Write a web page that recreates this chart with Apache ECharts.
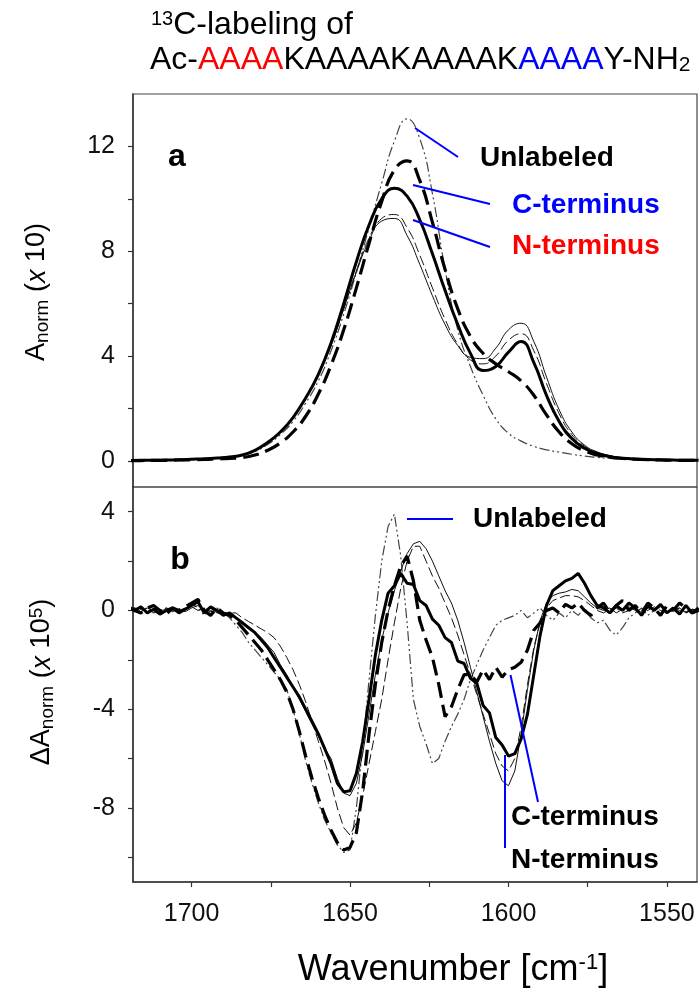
<!DOCTYPE html>
<html>
<head>
<meta charset="utf-8">
<script src="https://cdn.jsdelivr.net/npm/echarts@6/dist/echarts.min.js"></script>
<style>
html,body{margin:0;padding:0;background:#fff;}
#chart{width:699px;height:990px;}
</style>
</head>
<body>
<div id="chart"></div>
<script>
// ---------- DATA ----------
// Panel a: wavenumber grid (cm-1), step 4
const wnTop = [1720,1716,1712,1708,1704,1700,1696,1692,1688,1684,1680,1676,1672,1668,1664,1660,1656,1652,1648,1644,1640,1636,1632,1628,1624,1620,1616,1612,1608,1604,1600,1596,1592,1588,1584,1580,1576,1572,1568,1564,1560,1556,1552,1548,1544,1540];
const topUnlabeled = [0.01,0.02,0.02,0.03,0.04,0.05,0.07,0.1,0.14,0.2,0.36,0.62,1.0,1.5,2.2,3.05,4.2,5.6,7.2,8.9,10.6,12.2,13.05,12.3,10.2,7.3,5.0,3.6,2.5,1.6,1.05,0.75,0.55,0.42,0.33,0.25,0.18,0.13,0.09,0.06,0.04,0.03,0.02,0.02,0.01,0.01];
const topCterm = [0.01,0.01,0.02,0.02,0.03,0.04,0.05,0.07,0.09,0.12,0.22,0.4,0.68,1.1,1.7,2.55,3.65,5.0,6.6,8.3,9.9,11.1,11.45,10.7,9.1,7.3,5.8,4.75,4.1,3.7,3.4,3.05,2.5,1.75,1.1,0.65,0.38,0.22,0.14,0.09,0.06,0.04,0.03,0.02,0.02,0.01];
const topNterm = [0.01,0.02,0.02,0.03,0.04,0.06,0.08,0.11,0.15,0.22,0.4,0.7,1.1,1.65,2.4,3.3,4.5,6.0,7.6,9.0,10.0,10.4,10.1,9.2,7.9,6.5,5.2,4.1,3.45,3.6,4.15,4.55,3.75,2.5,1.5,0.85,0.48,0.28,0.16,0.1,0.07,0.05,0.04,0.03,0.02,0.02];
const topThinSolid = [0.01,0.02,0.02,0.03,0.04,0.06,0.08,0.11,0.15,0.22,0.4,0.7,1.1,1.65,2.4,3.3,4.4,5.8,7.2,8.4,9.15,9.25,8.6,7.5,6.3,5.2,4.4,3.95,3.9,4.3,5.0,5.25,4.55,3.2,1.95,1.1,0.6,0.34,0.2,0.12,0.08,0.06,0.04,0.03,0.03,0.02];
const topThinDashed = [0.01,0.02,0.02,0.03,0.04,0.06,0.08,0.11,0.15,0.22,0.4,0.7,1.1,1.65,2.4,3.3,4.4,5.8,7.25,8.5,9.25,9.4,8.9,7.85,6.6,5.4,4.45,3.85,3.7,4.0,4.6,4.85,4.2,2.95,1.8,1.0,0.56,0.32,0.18,0.11,0.07,0.05,0.04,0.03,0.03,0.02];

// Panel b: wavenumber grid (cm-1), step 2
const wnBot = [1720,1718,1716,1714,1712,1710,1708,1706,1704,1702,
  1700,1698,1696,1694,1692,1690,1688,1686,1684,1682,
  1680,1678,1676,1674,1672,1670,1668,1666,1664,1662,
  1660,1658,1656,1654,1652,1650,1648,1646,1644,1642,
  1640,1638,1636,1634,1632,1630,1628,1626,1624,1622,
  1620,1618,1616,1614,1612,1610,1608,1606,1604,1602,
  1600,1598,1596,1594,1592,1590,1588,1586,1584,1582,
  1580,1578,1576,1574,1572,1570,1568,1566,1564,1562,
  1560,1558,1556,1554,1552,1550,1548,1546,1544,1542,
  1540];
const botUnlabeled = [0.1,-0.05,0.05,0.1,-0.1,0.0,0.1,-0.05,0.05,0.0,
  0.3,0.1,-0.2,0.0,0.1,-0.1,-0.3,-0.6,-0.9,-1.3,
  -1.6,-1.9,-2.2,-2.5,-2.8,-3.2,-4.0,-5.0,-6.1,-7.0,
  -7.8,-8.5,-9.0,-9.5,-9.8,-9.7,-8.0,-5.5,-2.8,-0.2,
  2.0,3.4,3.9,2.2,-0.5,-3.6,-4.7,-5.4,-6.2,-6.0,
  -5.3,-4.7,-4.2,-3.6,-2.8,-2.2,-1.6,-1.1,-0.6,-0.4,
  -0.3,-0.2,0.0,-0.3,-0.1,0.1,-0.2,-0.4,-0.1,-0.3,
  0.0,-0.2,0.1,-0.3,-0.5,-0.4,-0.8,-1.0,-0.7,-0.3,
  -0.1,0.1,-0.2,0.0,0.15,-0.1,0.0,0.1,-0.1,0.0,
  0.0];
const botCterm = [0.15,0.0,-0.1,0.1,0.2,0.0,-0.15,0.1,0.0,0.15,
  0.3,0.45,0.0,-0.2,0.1,-0.1,-0.2,-0.4,-0.7,-1.0,
  -1.3,-1.6,-2.0,-2.4,-2.8,-3.3,-4.0,-4.9,-5.9,-6.8,
  -7.6,-8.3,-8.9,-9.4,-9.7,-9.6,-9.0,-7.3,-5.0,-3.0,
  -1.3,0.0,1.0,1.8,2.2,1.2,-0.4,-1.2,-1.9,-3.0,
  -4.3,-3.9,-3.2,-2.6,-2.6,-2.9,-2.4,-2.8,-2.3,-2.7,
  -2.4,-2.3,-2.1,-1.6,-0.8,-0.5,0.0,0.1,-0.1,0.25,
  0.1,0.3,0.0,-0.2,0.1,0.3,-0.1,0.2,0.4,0.0,
  0.2,-0.1,0.3,0.1,-0.2,0.2,0.0,0.3,0.1,-0.1,
  0.1];
const botNterm = [0.1,0.0,0.15,-0.1,0.05,-0.15,0.0,0.1,-0.1,0.05,
  0.2,0.35,-0.1,0.15,0.0,-0.2,-0.1,-0.3,-0.5,-0.7,
  -0.9,-1.2,-1.5,-1.9,-2.3,-2.7,-3.1,-3.5,-4.0,-4.5,
  -5.0,-5.6,-6.2,-7.0,-7.35,-7.3,-6.6,-5.3,-3.6,-1.8,
  -0.4,0.7,1.0,1.5,1.1,1.05,0.4,0.2,-0.35,-0.6,
  -1.1,-1.3,-2.05,-2.15,-2.75,-2.95,-3.85,-4.15,-5.15,-5.45,
  -5.9,-5.8,-5.2,-4.2,-2.6,-1.0,0.2,0.8,1.0,1.2,
  1.3,1.5,1.1,0.6,0.2,0.1,-0.1,0.2,0.0,0.3,
  0.1,-0.2,0.2,0.0,0.25,-0.1,0.1,-0.15,0.2,-0.1,
  0.0];
const botThinSolid = [0.05,0.1,-0.05,0.1,0.0,-0.1,0.1,0.0,0.05,-0.05,
  0.1,0.2,0.0,0.1,-0.1,-0.15,-0.2,-0.3,-0.5,-0.7,
  -0.9,-1.1,-1.4,-1.7,-2.2,-2.6,-3.1,-3.6,-4.1,-4.6,
  -5.1,-5.6,-6.0,-6.8,-7.4,-7.5,-7.0,-5.8,-4.2,-2.6,
  -1.2,-0.1,0.8,1.6,2.3,2.7,2.8,2.5,2.0,1.4,
  0.8,0.3,-0.4,-1.3,-2.3,-3.3,-4.3,-5.3,-6.2,-6.9,
  -7.1,-6.5,-5.0,-3.2,-1.6,-0.4,0.3,0.6,0.7,0.75,
  0.85,0.8,0.55,0.3,0.1,0.0,0.1,-0.1,0.05,0.15,
  0.0,-0.15,0.1,0.05,0.2,-0.05,0.0,0.1,-0.1,0.05,
  0.0];
const botThinDashed = [0.0,0.1,0.05,-0.05,0.1,0.0,-0.1,0.05,0.0,0.1,
  0.15,0.0,0.1,-0.05,0.0,-0.1,-0.1,-0.1,-0.3,-0.45,
  -0.6,-0.75,-0.9,-1.1,-1.45,-1.9,-2.4,-3.0,-3.7,-4.5,
  -5.3,-6.1,-7.0,-8.0,-8.8,-9.1,-8.6,-7.5,-6.2,-4.9,
  -3.6,-2.0,-0.5,0.9,2.0,2.6,2.6,2.0,1.4,0.9,
  0.3,-0.3,-1.0,-1.8,-2.6,-3.4,-4.2,-5.0,-5.8,-6.3,
  -6.5,-6.0,-4.7,-3.0,-1.5,-0.5,0.1,0.4,0.5,0.6,
  0.6,0.55,0.4,0.2,0.0,-0.1,0.05,0.1,-0.1,0.0,
  0.1,-0.1,0.0,0.15,0.0,-0.1,0.1,0.0,-0.05,0.05,
  0.0];

// Tick values
const xTickLabels = [1700,1650,1600,1550];
const xTicks = [1700,1675,1650,1625,1600,1575,1550];
const yTopLabels = [0,4,8,12];
const yTopTicks = [0,2,4,6,8,10,12];
const yBotLabels = [-8,-4,0,4];
const yBotTicks = [-10,-8,-6,-4,-2,0,2,4];

// ---------- CHART ----------
const F = '"Liberation Sans", Arial, Helvetica, sans-serif';
const chart = echarts.init(document.getElementById('chart'), null, {renderer:'canvas'});
function pairs(xs, ys){ return xs.map((x,i)=>[x, ys[i]]); }

const styles = {
  U: {color:'#444', width:1.2, type:[10,3,2,3,2,3]},
  T2:{color:'#111', width:1, type:[10,4]},
  T1:{color:'#111', width:1, type:'solid'},
  C: {color:'#000', width:3.2, type:[16,7]},
  N: {color:'#000', width:3, type:'solid'}
};
function ser(name, xs, ys, st, idx, smooth){
  return {name, type:'line', xAxisIndex:idx, yAxisIndex:idx, data:pairs(xs,ys),
    showSymbol:false, symbol:'none', smooth:smooth, lineStyle:st, silent:true, animation:false};
}
const axisCol = '#333';
function xAx(idx, show){
  return {gridIndex:idx, type:'value', min:1540.5, max:1718.5, inverse:true,
    axisLine:{show:show, onZero:false, lineStyle:{color:axisCol, width:1.5}},
    axisTick:{show:show, inside:false, length:5, customValues:xTicks, lineStyle:{color:axisCol, width:1.2}},
    axisLabel:{show:show, customValues:xTickLabels, formatter:(v)=>String(v), fontSize:25, color:'#111', fontFamily:F, margin:20},
    splitLine:{show:false}};
}
function yAx(idx, min, max, labels, ticks){
  return {gridIndex:idx, type:'value', min:min, max:max,
    axisLine:{show:true, onZero:false, lineStyle:{color:axisCol, width:1.5}},
    axisTick:{show:true, inside:false, length:5, customValues:ticks, lineStyle:{color:axisCol, width:1.2}},
    axisLabel:{customValues:labels, formatter:(v)=>String(v), fontSize:25, color:'#111', fontFamily:F, margin:18},
    splitLine:{show:false}};
}

const bold28 = {fontSize:28, fontWeight:'bold', fontFamily:F};
function txt(x, y, text, fill){
  return {type:'text', x:x, y:y, z:100,
    style:Object.assign({text:text, fill:fill, align:'left', verticalAlign:'middle',
      textAlign:'left', textVerticalAlign:'middle'}, bold28)};
}
function seg(x1,y1,x2,y2){
  return {type:'line', z:100, shape:{x1,y1,x2,y2}, style:{stroke:'#0000ff', lineWidth:2}};
}

const option = {
  backgroundColor:'#fff',
  animation:false,
  grid:[
    {left:133, top:94, width:564, height:393, show:true, borderColor:'#444', borderWidth:1.2, backgroundColor:'transparent', containLabel:false, outerBoundsMode:'none'},
    {left:133, top:487, width:564, height:395, show:true, borderColor:'#444', borderWidth:1.2, backgroundColor:'transparent', containLabel:false, outerBoundsMode:'none'}
  ],
  xAxis:[xAx(0,false), xAx(1,true)],
  yAxis:[yAx(0,-1,14,yTopLabels,yTopTicks), yAx(1,-11,5,yBotLabels,yBotTicks)],
  series:[
    ser('Unlabeled', wnTop, topUnlabeled, styles.U, 0, true),
    ser('thin dashed', wnTop, topThinDashed, styles.T2, 0, true),
    ser('thin solid', wnTop, topThinSolid, styles.T1, 0, true),
    ser('C-terminus', wnTop, topCterm, styles.C, 0, true),
    ser('N-terminus', wnTop, topNterm, styles.N, 0, true),
    ser('Unlabeled b', wnBot, botUnlabeled, styles.U, 1, false),
    ser('thin dashed b', wnBot, botThinDashed, styles.T2, 1, false),
    ser('thin solid b', wnBot, botThinSolid, styles.T1, 1, false),
    ser('C-terminus b', wnBot, botCterm, styles.C, 1, false),
    ser('N-terminus b', wnBot, botNterm, styles.N, 1, false)
  ],
  graphic:[
    // title
    {type:'text', x:151, y:25, style:{text:'{sup|13}{m|C-labeling of}', align:'left', verticalAlign:'middle', textAlign:'left', textVerticalAlign:'middle',
      rich:{sup:{fontSize:20, lineHeight:22, verticalAlign:'top', fill:'#000', fontFamily:F},
            m:{fontSize:32, lineHeight:32, fill:'#000', fontFamily:F}}}},
    {type:'text', x:150, y:60, style:{text:'{k|Ac-}{r|AAAA}{k|KAAAAKAAAAK}{b|AAAA}{k|Y-NH}{sub|2}', align:'left', verticalAlign:'middle', textAlign:'left', textVerticalAlign:'middle',
      rich:{k:{fontSize:32, lineHeight:32, fill:'#000', fontFamily:F},
            r:{fontSize:32, lineHeight:32, fill:'#ff0000', fontFamily:F},
            b:{fontSize:32, lineHeight:32, fill:'#0000ff', fontFamily:F},
            sub:{fontSize:21, lineHeight:6, verticalAlign:'bottom', fill:'#000', fontFamily:F}}}},
    // y axis names
    {type:'text', x:37, y:292, rotation:Math.PI/2, style:{text:'{m|A}{sub|norm}{m| (}{i|x}{m| 10)}', align:'center', verticalAlign:'middle', textAlign:'center', textVerticalAlign:'middle',
      rich:{m:{fontSize:27, lineHeight:30, fill:'#000', fontFamily:F},
            i:{fontSize:27, lineHeight:30, fontStyle:'italic', fill:'#000', fontFamily:F},
            sub:{fontSize:19, lineHeight:6, verticalAlign:'bottom', fill:'#000', fontFamily:F}}}},
    {type:'text', x:42, y:682, rotation:Math.PI/2, style:{text:'{m|ΔA}{sub|norm}{m| (}{i|x}{m| 10}{sup|5}{m|)}', align:'center', verticalAlign:'middle', textAlign:'center', textVerticalAlign:'middle',
      rich:{m:{fontSize:27, lineHeight:30, fill:'#000', fontFamily:F},
            i:{fontSize:27, lineHeight:30, fontStyle:'italic', fill:'#000', fontFamily:F},
            sub:{fontSize:19, lineHeight:6, verticalAlign:'bottom', fill:'#000', fontFamily:F},
            sup:{fontSize:19, lineHeight:20, verticalAlign:'top', fill:'#000', fontFamily:F}}}},
    // x axis name
    {type:'text', x:453, y:970, style:{text:'{m|Wavenumber [cm}{sup|-1}{m|]}', align:'center', verticalAlign:'middle', textAlign:'center', textVerticalAlign:'middle',
      rich:{m:{fontSize:36, lineHeight:36, fill:'#000', fontFamily:F},
            sup:{fontSize:22, lineHeight:22, verticalAlign:'top', fill:'#000', fontFamily:F}}}},
    // panel labels
    {type:'text', x:177, y:157, z:100, style:{text:'a', fill:'#000', fontSize:32, fontWeight:'bold', fontFamily:F, align:'center', verticalAlign:'middle', textAlign:'center', textVerticalAlign:'middle'}},
    {type:'text', x:180, y:560, z:100, style:{text:'b', fill:'#000', fontSize:32, fontWeight:'bold', fontFamily:F, align:'center', verticalAlign:'middle', textAlign:'center', textVerticalAlign:'middle'}},
    // annotations panel a
    txt(480, 158, 'Unlabeled', '#000'),
    txt(512, 205, 'C-terminus', '#0000ff'),
    txt(512, 246, 'N-terminus', '#ff0000'),
    seg(415,128,458,157),
    seg(413,185,490,204),
    seg(413,220,490,247),
    // annotations panel b
    txt(473, 519, 'Unlabeled', '#000'),
    txt(511, 817, 'C-terminus', '#000'),
    txt(511, 860, 'N-terminus', '#000'),
    seg(407,519,453,519),
    seg(510.5,675,538,802),
    seg(505,755,505,848)
  ]
};
chart.setOption(option);
</script>
</body>
</html>
